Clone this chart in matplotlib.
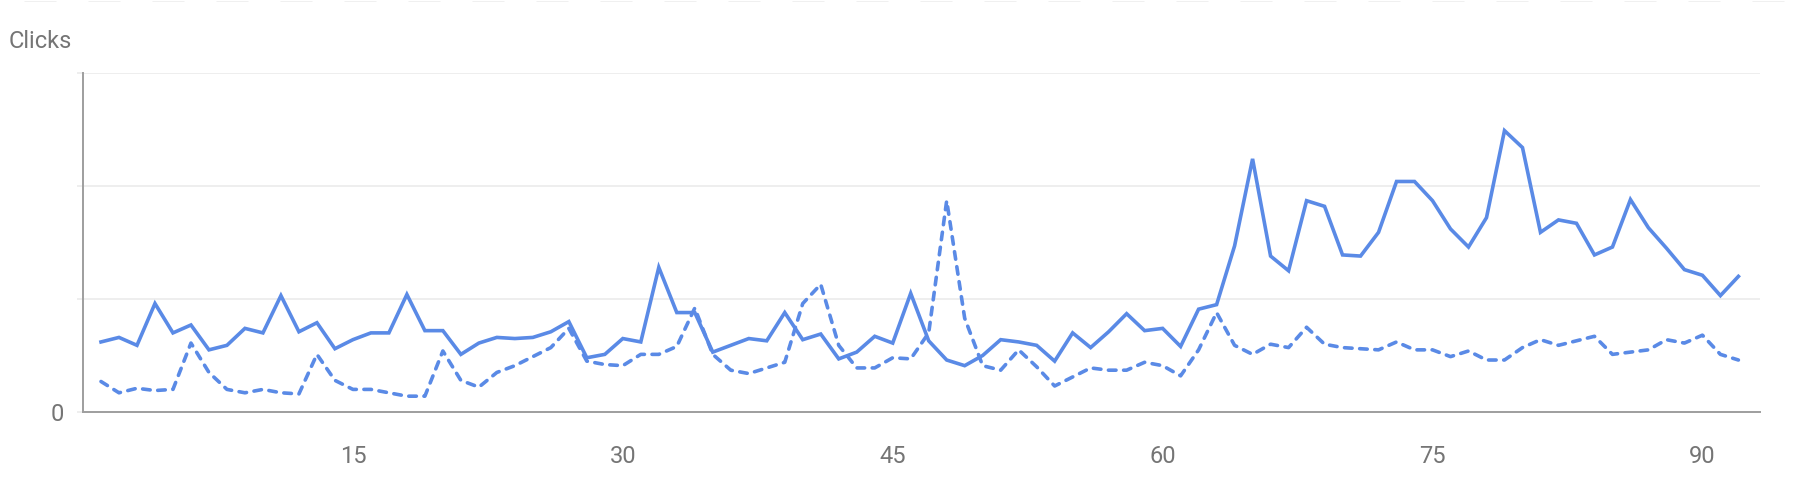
import numpy as np
import matplotlib.pyplot as plt
from matplotlib.lines import Line2D

# Daily clicks: current period (solid) vs previous period (dashed)
days = np.arange(1, 93)

clicks_current = [
    62, 66, 59, 96, 70, 77, 55, 59, 74, 70,
    103, 71, 79, 56, 64, 70, 70, 104, 72, 72,
    51, 61, 66, 65, 66, 71, 80, 48, 51, 65,
    62, 128, 88, 88, 53, 59, 65, 63, 88, 64,
    69, 47, 53, 67, 61, 105, 63, 46, 41, 50,
    64, 62, 59, 45, 70, 57, 71, 87, 72, 74,
    58, 91, 95, 147, 224, 138, 125, 187, 182, 139,
    138, 159, 204, 204, 187, 162, 146, 172, 249, 234,
    159, 170, 167, 139, 146, 188, 163, 145, 126, 121,
    103, 120,
]

clicks_previous = [
    27, 17, 21, 19, 20, 61, 35, 20, 17, 20,
    17, 16, 51, 28, 20, 20, 17, 14, 14, 54,
    28, 22, 35, 41, 49, 57, 74, 45, 42, 41,
    51, 51, 58, 92, 51, 37, 34, 39, 44, 96,
    113, 59, 39, 39, 48, 47, 70, 187, 83, 41,
    37, 55, 40, 23, 31, 39, 37, 37, 44, 41,
    32, 55, 88, 59, 51, 60, 57, 75, 60, 57,
    56, 55, 62, 55, 55, 49, 54, 46, 46, 57,
    64, 59, 63, 67, 51, 53, 55, 64, 61, 68,
    51, 46,
]

x_ticks = [15, 30, 45, 60, 75, 90]
y_grid = [0, 100, 200, 300]

LINE_COLOR = "#5a8ae6"
TEXT_COLOR = "#757575"
GRID_COLOR = "#ebebeb"
AXIS_COLOR = "#9e9e9e"

plt.rcParams["font.family"] = ["Roboto", "DejaVu Sans"]

W, H = 1796, 488
fig = plt.figure(figsize=(W / 100, H / 100), dpi=100)
ax = fig.add_axes([83 / W, 1 - 412 / H, (1760 - 83) / W, (412 - 73) / H])

ax.plot(days, clicks_current, color=LINE_COLOR, lw=2.6, solid_joinstyle="miter",
        zorder=3)
ax.plot(days, clicks_previous, color=LINE_COLOR, lw=2.6, dashes=(2.1, 2.1),
        dash_capstyle="round", zorder=3)

ax.set_xlim(0, 93.2)
ax.set_ylim(0, 300)

ax.set_xticks(x_ticks)
ax.set_xticklabels([str(t) for t in x_ticks])
ax.tick_params(axis="x", length=0, pad=24, labelsize=17, labelcolor=TEXT_COLOR)

ax.set_yticks(y_grid)
ax.set_yticklabels(["0", "", "", ""])
ax.tick_params(axis="y", length=4.5, width=1.2, color=GRID_COLOR, pad=9,
               labelsize=17, labelcolor=TEXT_COLOR)
ax.yaxis.get_major_ticks()[0].tick1line.set_color(AXIS_COLOR)

ax.grid(axis="y", color=GRID_COLOR, lw=1.2)
ax.set_axisbelow(True)

for side in ["top", "right"]:
    ax.spines[side].set_visible(False)
for side in ["left", "bottom"]:
    ax.spines[side].set_color(AXIS_COLOR)
    ax.spines[side].set_linewidth(1.4)

fig.text(9 / W, 1 - 48 / H, "Clicks", fontsize=17, color=TEXT_COLOR,
         va="baseline", ha="left")

# faint dashed rule along the very top edge
fig.add_artist(Line2D([0, 1], [1 - 1 / H, 1 - 1 / H], color="#f0f0f0", lw=0.72,
                      linestyle=(40, (32, 32)), transform=fig.transFigure))

fig.savefig("out.png", dpi=100)
